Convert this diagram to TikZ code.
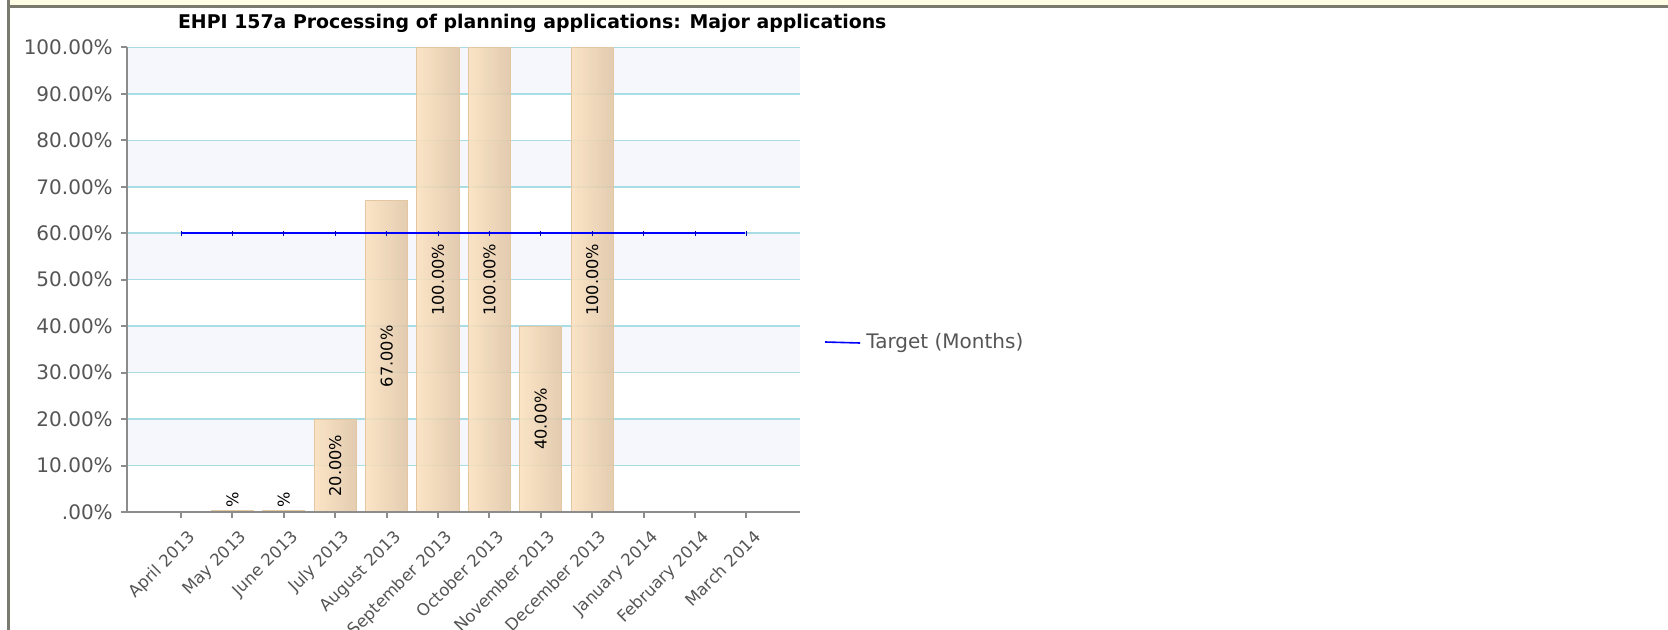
\documentclass[tikz,border=0pt]{standalone}
\usepackage{fontspec}
\setmainfont{DejaVu Sans}
\usetikzlibrary{positioning}
\definecolor{frameedge}{HTML}{7A7A6E}
\definecolor{framecream}{HTML}{FFFDE3}
\definecolor{gridcyan}{HTML}{A8DDE6}
\definecolor{bandfill}{HTML}{F5F7FD}
\definecolor{barlight}{HTML}{FBE1BE}
\definecolor{bardark}{HTML}{DFC5A5}
\definecolor{baredge}{HTML}{E2C7A2}
\definecolor{axisgray}{HTML}{8C8C8C}
\definecolor{labelgray}{HTML}{555555}
\definecolor{targetblue}{HTML}{0000FF}
\tikzset{
  axislabel/.style={text=labelgray,font=\fontsize{10}{12}\selectfont,inner sep=0pt},
  monthlabel/.style={text=labelgray,font=\fontsize{8.3}{10}\selectfont,rotate=45,anchor=north east,inner sep=0pt},
  barlabel/.style={font=\fontsize{8.1}{10}\selectfont,rotate=90,inner sep=0pt},
  chartbar/.style={draw=baredge,line width=0.5pt,left color=barlight,right color=bardark,fill opacity=0.88},
  gridline/.style={draw=gridcyan,line width=0.75pt},
  axisline/.style={draw=axisgray,line width=1pt},
  target/.style={draw=targetblue,line width=1.25pt}
}
\begin{document}
\begin{tikzpicture}[x=0.5pt,y=-0.5pt]
  \useasboundingbox (0,0) rectangle (1668,630);
  \clip (0,0) rectangle (1668,630);
  \fill[framecream] (10,0) rectangle (1668,5);
  \fill[frameedge] (7,5) rectangle (1668,8);
  \fill[frameedge] (7,0) rectangle (10,630);
  \node(title) [anchor=base west,font=\bfseries\fontsize{9.45}{11}\selectfont] at (171,29)
    {EHPI 157a Processing of planning applications: Major applications};
  \begin{scope}[shift={(181,512)},xscale=51.4,yscale=-4.646]
    \foreach \lo in {10,30,50,70,90}
      \fill[bandfill] (-1.05,\lo) rectangle (12.04,\lo+10);
    \foreach \v in {10,20,...,100}
      \draw[gridline] (-1.05,\v) -- (12.04,\v);
    \foreach \v/\t in {0/.00,10/10.00,20/20.00,30/30.00,40/40.00,50/50.00,60/60.00,70/70.00,80/80.00,90/90.00,100/100.00} {
      \node(y\v) [axislabel,anchor=east] at (-1.32,\v) {\t\%};
      \draw[axisline] (-1.17,\v) -- (-1.05,\v);
    }
    \foreach \i/\v in {1/0.4,2/0.4,3/20,4/67,5/100,6/100,7/40,8/100}
      \draw[chartbar] (\i-0.41,0) rectangle (\i+0.41,\v);
    \draw[axisline] (-1.05,0) -- (-1.05,100);
    \draw[axisline] (-1.17,0) -- (12.04,0);
    \foreach \i/\m in {0/April 2013,1/May 2013,2/June 2013,3/July 2013,4/August 2013,5/September 2013,6/October 2013,7/November 2013,8/December 2013,9/January 2014,10/February 2014,11/March 2014} {
      \draw[axisline] (\i,0) -- (\i,-1.3);
      \node(m\i) [monthlabel] at (\i+0.12,-3.6) {\m};
    }
    \foreach \i/\v in {3/20,4/67,5/100,6/100,7/40,8/100}
      \node(val\i) [barlabel] at (\i,\v/2) {\v.00\%};
    \node(val1) [barlabel,anchor=west] at (1,0.9) {\%};
    \node(val2) [barlabel,anchor=west] at (2,0.9) {\%};
    \coordinate (tstart) at (0,60);
    \coordinate (tend) at (11,60);
    \draw[target] (tstart) -- (tend);
    \foreach \i in {0,...,11}
      \draw[draw=targetblue!70!black,line width=0.4pt] (\i,59.45) -- (\i,60.55);
  \end{scope}
  \node(legend) [axislabel,anchor=west] at (866,343) {Target (Months)};
  \coordinate (legline) at (825,342);
  \draw[target,line width=0.8pt] (legline) -- ([xshift=-3pt]legend.west);
\end{tikzpicture}
\end{document}
